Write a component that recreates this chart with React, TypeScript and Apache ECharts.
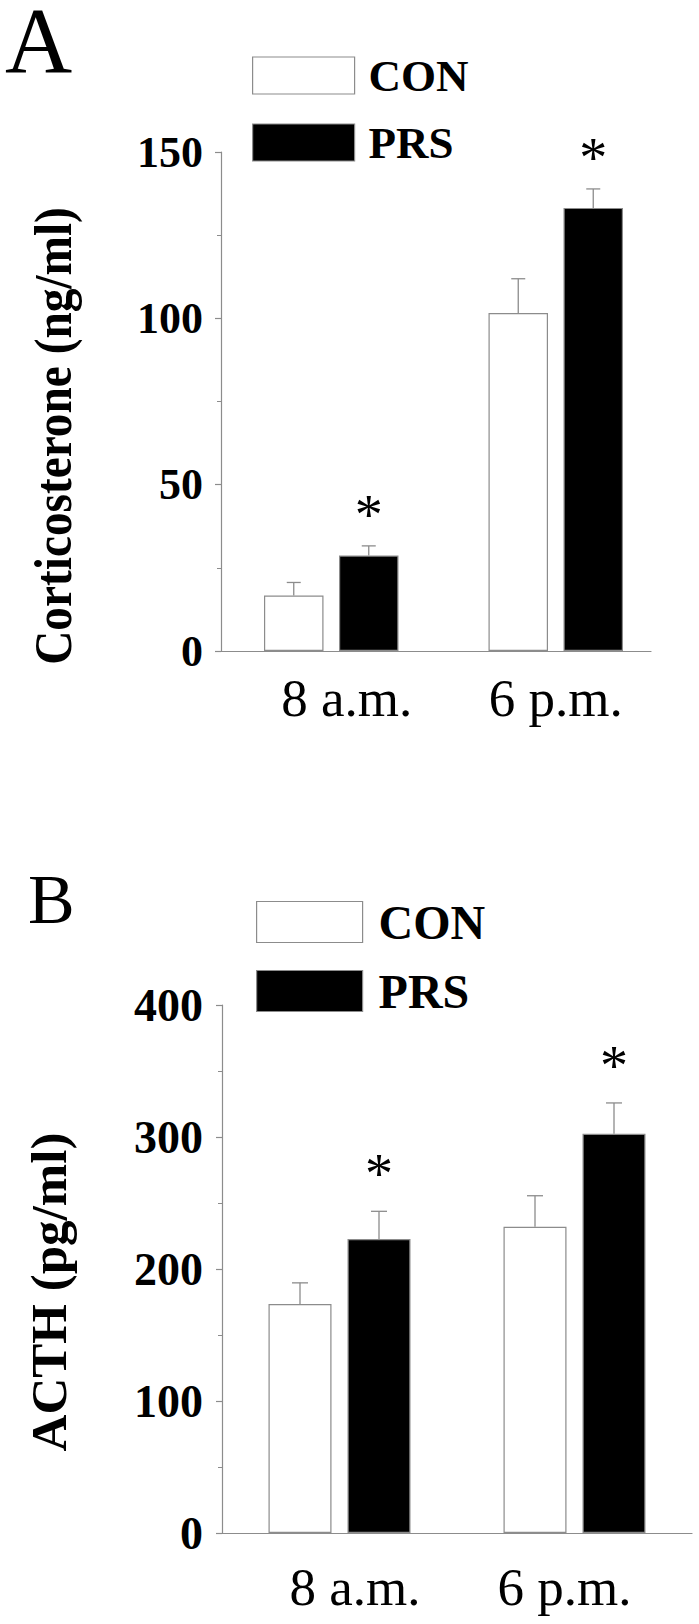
import React, { useEffect, useRef } from 'react';
import * as echarts from 'echarts';

// ---- data ----
const categories = ['8 a.m.', '6 p.m.'];
const groupNames = ['CON', 'PRS'];
const corticoCON = [16.7, 101.6];
const corticoCONErr = [3.9, 10.3];
const corticoPRS = [28.7, 133.2];
const corticoPRSErr = [2.9, 5.7];
const corticoPRSSig = [1, 1];
const acthCON = [173.5, 232];
const acthCONErr = [16, 23.5];
const acthPRS = [222.7, 302.5];
const acthPRSErr = [21, 23.3];
const acthPRSSig = [1, 1];
const corticoTicks = [0, 50, 100, 150];
const acthTicks = [0, 100, 200, 300, 400];
const panelLetters = ['A', 'B'];
const yTitles = ['Corticosterone (ng/ml)', 'ACTH (pg/ml)'];

const FONT = "'Liberation Serif', 'Times New Roman', Times, serif";
const GRAY = '#8c8c8c';

function errSeries(
  name: string,
  vals: number[],
  errs: number[],
  sig: number[] | null,
  xi: number,
  yi: number,
  offset: number,
  cap: number,
  starFont: number,
  starOff: number
) {
  return {
    type: 'custom',
    name: name + '-err',
    xAxisIndex: xi,
    yAxisIndex: yi,
    z: 5,
    silent: true,
    dimensions: ['x', 'y', 'e', 's'],
    encode: { x: 0, y: 1 },
    data: vals.map((v, i) => [i, v, errs[i], sig ? sig[i] : 0]),
    renderItem: (params: any, api: any) => {
      const idx = api.value(0);
      const v = api.value(1);
      const e = api.value(2);
      const s = api.value(3);
      const base = api.coord([idx, v]);
      const top = api.coord([idx, v + e]);
      const x = base[0] + offset;
      const children: any[] = [
        {
          type: 'line',
          shape: { x1: x, y1: base[1], x2: x, y2: top[1] },
          style: { stroke: GRAY, lineWidth: 1.3 },
        },
        {
          type: 'line',
          shape: { x1: x - cap / 2, y1: top[1], x2: x + cap / 2, y2: top[1] },
          style: { stroke: GRAY, lineWidth: 1.3 },
        },
      ];
      if (s) {
        children.push({
          type: 'text',
          x: x,
          y: top[1] - starOff,
          style: {
            text: '*',
            fontSize: starFont,
            fontFamily: FONT,
            fill: '#000',
            align: 'center',
            verticalAlign: 'middle',
          },
        });
      }
      return { type: 'group', children };
    },
  };
}

function catData(pads: number[][]) {
  return categories.map((c, i) => ({ value: c, textStyle: { padding: pads[i] } }));
}

export default function App() {
  const ref = useRef<HTMLDivElement>(null);
  useEffect(() => {
    if (!ref.current) return;
    const chart = echarts.init(ref.current, undefined, { renderer: 'svg' });

    const aBarW = 59.5;
    const aGap = 15.5;
    const bBarW = 63;
    const bGap = 16;
    const aOff = (aBarW + aGap) / 2;
    const bOff = (bBarW + bGap) / 2;

    const legendCommon = {
      orient: 'vertical',
      padding: 0,
      selectedMode: false,
      icon: 'rect',
      data: [
        { name: groupNames[0], itemStyle: { color: '#fff', borderColor: GRAY, borderWidth: 1.2 } },
        { name: groupNames[1], itemStyle: { color: '#000', borderColor: GRAY, borderWidth: 1.2 } },
      ],
    };

    const yAxisStyle = (fs: number, margin: number) => ({
      axisLine: { show: true, lineStyle: { color: GRAY, width: 1.2 } },
      axisTick: { show: true, length: 6, lineStyle: { color: GRAY, width: 1.2 } },
      minorTick: { show: true, splitNumber: 2, length: 4, lineStyle: { color: GRAY, width: 1 } },
      splitLine: { show: false },
      axisLabel: { fontSize: fs, fontWeight: 'bold', fontFamily: FONT, color: '#000', margin },
    });

    chart.setOption({
      animation: false,
      backgroundColor: '#fff',
      grid: [
        { left: 221, top: 152, width: 430, height: 499 },
        { left: 219, top: 152, width: 449, height: 499 },
        { left: 222, top: 1005, width: 470, height: 528 },
      ],
      legend: [
        {
          ...legendCommon,
          left: 252,
          top: 53,
          itemWidth: 102,
          itemHeight: 37,
          itemGap: 22,
          textStyle: {
            fontSize: 45,
            fontWeight: 'bold',
            fontFamily: FONT,
            color: '#000',
            padding: [0, 0, 0, 9],
            lineHeight: 37,
          },
        },
        {
          ...legendCommon,
          left: 256,
          top: 898,
          itemWidth: 106,
          itemHeight: 41,
          itemGap: 21,
          textStyle: {
            fontSize: 48,
            fontWeight: 'bold',
            fontFamily: FONT,
            color: '#000',
            padding: [0, 0, 0, 11],
            lineHeight: 41,
          },
        },
      ],
      xAxis: [
        {
          gridIndex: 0,
          type: 'category',
          data: categories,
          axisLine: { show: true, lineStyle: { color: GRAY, width: 1.2 } },
          axisTick: { show: false },
          axisLabel: { show: false },
        },
        {
          gridIndex: 1,
          type: 'category',
          data: catData([[0, 0, 0, 31], [0, 0, 0, 0]]),
          axisLine: { show: false },
          axisTick: { show: false },
          axisLabel: { fontSize: 53, fontFamily: FONT, color: '#000', margin: 20 },
        },
        {
          gridIndex: 2,
          type: 'category',
          data: catData([[0, 0, 0, 31], [0, 20, 0, 0]]),
          axisLine: { show: true, lineStyle: { color: GRAY, width: 1.2 } },
          axisTick: { show: false },
          axisLabel: { fontSize: 53, fontFamily: FONT, color: '#000', margin: 27 },
        },
      ],
      yAxis: [
        {
          gridIndex: 0,
          type: 'value',
          min: corticoTicks[0],
          max: corticoTicks[corticoTicks.length - 1],
          interval: corticoTicks[1] - corticoTicks[0],
          ...yAxisStyle(44, 18),
        },
        {
          gridIndex: 1,
          type: 'value',
          min: corticoTicks[0],
          max: corticoTicks[corticoTicks.length - 1],
          show: false,
        },
        {
          gridIndex: 2,
          type: 'value',
          min: acthTicks[0],
          max: acthTicks[acthTicks.length - 1],
          interval: acthTicks[1] - acthTicks[0],
          ...yAxisStyle(46, 19),
        },
      ],
      series: [
        {
          type: 'bar',
          name: groupNames[0],
          xAxisIndex: 1,
          yAxisIndex: 1,
          data: corticoCON,
          barWidth: aBarW,
          barGap: (aGap / aBarW) * 100 + '%',
          itemStyle: { color: '#fff', borderColor: GRAY, borderWidth: 1.2 },
        },
        {
          type: 'bar',
          name: groupNames[1],
          xAxisIndex: 1,
          yAxisIndex: 1,
          data: corticoPRS,
          barWidth: aBarW,
          barGap: (aGap / aBarW) * 100 + '%',
          itemStyle: { color: '#000', borderColor: GRAY, borderWidth: 1.2 },
        },
        errSeries('A-CON', corticoCON, corticoCONErr, null, 1, 1, -aOff, 14, 56, 31),
        errSeries('A-PRS', corticoPRS, corticoPRSErr, corticoPRSSig, 1, 1, aOff, 14, 56, 31),
        {
          type: 'bar',
          name: groupNames[0],
          xAxisIndex: 2,
          yAxisIndex: 2,
          data: acthCON,
          barWidth: bBarW,
          barGap: (bGap / bBarW) * 100 + '%',
          itemStyle: { color: '#fff', borderColor: GRAY, borderWidth: 1.2 },
        },
        {
          type: 'bar',
          name: groupNames[1],
          xAxisIndex: 2,
          yAxisIndex: 2,
          data: acthPRS,
          barWidth: bBarW,
          barGap: (bGap / bBarW) * 100 + '%',
          itemStyle: { color: '#000', borderColor: GRAY, borderWidth: 1.2 },
        },
        errSeries('B-CON', acthCON, acthCONErr, null, 2, 2, -bOff, 16, 56, 37),
        errSeries('B-PRS', acthPRS, acthPRSErr, acthPRSSig, 2, 2, bOff, 16, 56, 37),
      ],
      graphic: [
        {
          type: 'text',
          x: 5,
          y: 40,
          style: {
            text: panelLetters[0],
            fontSize: 93,
            lineHeight: 70,
            fontFamily: FONT,
            fill: '#000',
            align: 'left',
            verticalAlign: 'middle',
          },
        },
        {
          type: 'text',
          x: 28,
          y: 899,
          style: {
            text: panelLetters[1],
            fontSize: 70,
            fontFamily: FONT,
            fill: '#000',
            align: 'left',
            verticalAlign: 'middle',
          },
        },
        {
          type: 'text',
          x: 54,
          y: 436,
          rotation: Math.PI / 2,
          scaleX: 0.91,
          style: {
            text: yTitles[0],
            fontSize: 52,
            fontWeight: 'bold',
            fontFamily: FONT,
            fill: '#000',
            align: 'center',
            verticalAlign: 'middle',
          },
        },
        {
          type: 'text',
          x: 49,
          y: 1292,
          rotation: Math.PI / 2,
          style: {
            text: yTitles[1],
            fontSize: 51,
            fontWeight: 'bold',
            fontFamily: FONT,
            fill: '#000',
            align: 'center',
            verticalAlign: 'middle',
          },
        },
      ],
    });
    return () => chart.dispose();
  }, []);
  return (
    <div
      ref={ref}
      style={{ position: 'absolute', left: 0, top: 0, width: 699, height: 1624, background: '#fff' }}
    />
  );
}
